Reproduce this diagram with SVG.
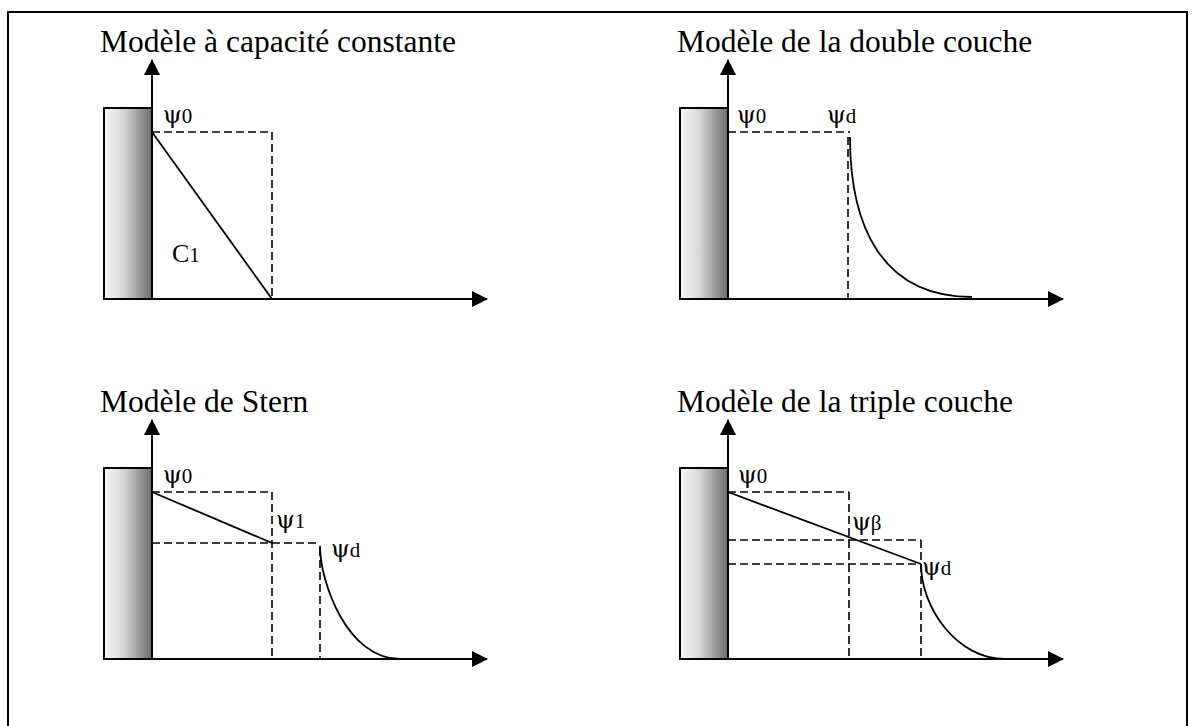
<svg xmlns="http://www.w3.org/2000/svg" width="1196" height="726" viewBox="0 0 1196 726">
<style>
.t{font-family:"Liberation Serif","Times New Roman",serif;font-size:31.5px;fill:#000}
.l{font-family:"Liberation Serif","Times New Roman",serif;font-size:21px;fill:#000}
.p{font-family:"DejaVu Serif","Liberation Serif",serif;font-size:24px}
.s{font-size:21px}
.cl{font-family:"Liberation Serif","Times New Roman",serif;font-size:26px;fill:#000}
.wall{fill:url(#g);stroke:#000;stroke-width:2}
.ax{stroke:#000;stroke-width:2;fill:none}
.d{stroke:#000;stroke-width:1.6;stroke-dasharray:8 4;fill:none}
.c{stroke:#000;stroke-width:1.8;fill:none}
</style>
<defs>
<linearGradient id="g" x1="0" y1="0" x2="1" y2="0">
<stop offset="0" stop-color="#f6f6f6"/>
<stop offset="0.4" stop-color="#d8d8d8"/>
<stop offset="1" stop-color="#6a6a6a"/>
</linearGradient>
<marker id="ah" viewBox="0 0 16 16" refX="15" refY="8" markerWidth="16" markerHeight="16" markerUnits="userSpaceOnUse" orient="auto">
<path d="M0,0 L16,8 L0,16 Z" fill="#000"/>
</marker>
</defs>
<rect x="8" y="12" width="1179" height="740" fill="none" stroke="#000" stroke-width="2"/>

<g id="panel-capacite">
<text class="t" x="100" y="52">Modèle à capacité constante</text>
<rect class="wall" x="104" y="108" width="48" height="191"/>
<line class="d" x1="152" y1="132" x2="272" y2="132"/>
<line class="d" x1="272" y1="132" x2="272" y2="299"/>
<line class="c" x1="152" y1="132" x2="272" y2="299"/>
<text class="l" x="163" y="123"><tspan class="p">ψ</tspan>0</text>
<text class="cl" x="172" y="262">C<tspan class="s">1</tspan></text>
</g>

<g id="panel-double">
<text class="t" x="677" y="52">Modèle de la double couche</text>
<rect class="wall" x="680" y="108" width="48" height="191"/>
<line class="d" x1="728" y1="132" x2="850" y2="132"/>
<line class="d" x1="848" y1="137" x2="848" y2="299"/>
<path class="c" d="M850,137 C850,225 881,297 972,297"/>
<text class="l" x="737" y="123"><tspan class="p">ψ</tspan>0</text>
<text class="l" x="827" y="123"><tspan class="p">ψ</tspan>d</text>
</g>

<g id="panel-stern">
<text class="t" x="100" y="412">Modèle de Stern</text>
<rect class="wall" x="104" y="468" width="48" height="191"/>
<line class="d" x1="152" y1="492" x2="272" y2="492"/>
<line class="d" x1="272" y1="492" x2="272" y2="659"/>
<line class="d" x1="152" y1="543" x2="320" y2="543"/>
<line class="d" x1="320" y1="548" x2="320" y2="659"/>
<line class="c" x1="152" y1="492" x2="272" y2="543"/>
<path class="c" d="M320,546 C320,582 347,659 400,659"/>
<text class="l" x="163" y="483"><tspan class="p">ψ</tspan>0</text>
<text class="l" x="276" y="528"><tspan class="p">ψ</tspan>1</text>
<text class="l" x="331" y="557"><tspan class="p">ψ</tspan>d</text>
</g>

<g id="panel-triple">
<text class="t" x="677" y="412">Modèle de la triple couche</text>
<rect class="wall" x="680" y="468" width="48" height="191"/>
<line class="d" x1="728" y1="492" x2="849" y2="492"/>
<line class="d" x1="849" y1="492" x2="849" y2="659"/>
<line class="d" x1="728" y1="540" x2="921" y2="540"/>
<line class="d" x1="921" y1="540" x2="921" y2="659"/>
<line class="d" x1="728" y1="564" x2="921" y2="564"/>
<line class="c" x1="728" y1="492" x2="921" y2="564"/>
<path class="c" d="M921,564 C921,608 957,659 1005,659"/>
<text class="l" x="738" y="483"><tspan class="p">ψ</tspan>0</text>
<text class="l" x="852" y="530"><tspan class="p">ψ</tspan>β</text>
<text class="l" x="922" y="575"><tspan class="p">ψ</tspan>d</text>
</g>

<g id="connectors">
<line class="ax" x1="152" y1="299" x2="152" y2="60" marker-end="url(#ah)"/>
<line class="ax" x1="104" y1="299" x2="487" y2="299" marker-end="url(#ah)"/>
<line class="ax" x1="728" y1="299" x2="728" y2="60" marker-end="url(#ah)"/>
<line class="ax" x1="680" y1="299" x2="1063" y2="299" marker-end="url(#ah)"/>
<line class="ax" x1="152" y1="659" x2="152" y2="420" marker-end="url(#ah)"/>
<line class="ax" x1="104" y1="659" x2="487" y2="659" marker-end="url(#ah)"/>
<line class="ax" x1="728" y1="659" x2="728" y2="420" marker-end="url(#ah)"/>
<line class="ax" x1="680" y1="659" x2="1063" y2="659" marker-end="url(#ah)"/>
</g>
</svg>
